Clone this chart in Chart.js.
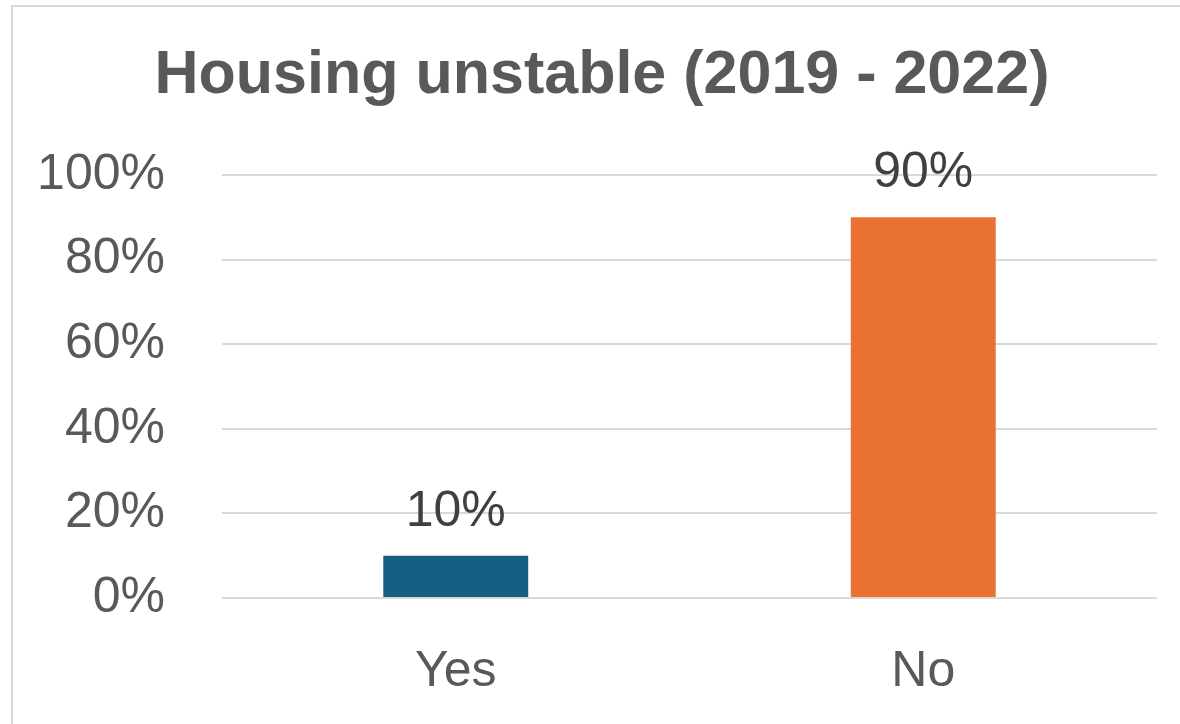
<!DOCTYPE html>
<html>
<head>
<meta charset="utf-8">
<script src="https://cdn.jsdelivr.net/npm/chart.js@4"></script>
<style>
  html, body { margin: 0; padding: 0; background: #fff; overflow: hidden; }
  #wrap { position: relative; width: 1180px; height: 724px; overflow: hidden; }
  #frame {
    position: absolute; left: 11px; top: 5px; width: 1300px; height: 800px;
    border: 2px solid #d9d9d9; box-sizing: border-box;
  }
  canvas { position: absolute; left: 0; top: 0; }
</style>
</head>
<body>
<div id="wrap">
  <div id="frame"></div>
  <canvas id="housingChart" width="1180" height="724"></canvas>
</div>
<script>
const categories = ['Yes', 'No'];
const shares = [10, 90];
const barColors = ['#156082', '#E97132'];
const yTicks = [0, 20, 40, 60, 80, 100];
const chartTitle = 'Housing unstable (2019 - 2022)';

const FONT = "'Liberation Sans', Arial, sans-serif";
const TEXT = '#595959';

// title is drawn by hand so it can sit a little right of the canvas centre
const titleText = {
  id: 'titleText',
  afterDraw(chart) {
    const { ctx } = chart;
    ctx.save();
    ctx.font = `bold 61px ${FONT}`;
    ctx.fillStyle = TEXT;
    ctx.textAlign = 'center';
    ctx.textBaseline = 'middle';
    ctx.fillText(chartTitle, 602, 76);
    ctx.restore();
  }
};

// value labels above each bar
const barValueLabels = {
  id: 'barValueLabels',
  afterDatasetsDraw(chart) {
    const { ctx } = chart;
    const meta = chart.getDatasetMeta(0);
    ctx.save();
    ctx.font = `50px ${FONT}`;
    ctx.fillStyle = '#404040';
    ctx.textAlign = 'center';
    ctx.textBaseline = 'alphabetic';
    meta.data.forEach((bar, i) => {
      ctx.fillText(shares[i] + '%', bar.x, bar.y - 30);
    });
    ctx.restore();
  }
};

new Chart(document.getElementById('housingChart'), {
  type: 'bar',
  data: {
    labels: categories,
    datasets: [{
      data: shares,
      backgroundColor: barColors,
      borderWidth: 0,
      barPercentage: 0.31,
      categoryPercentage: 1
    }]
  },
  options: {
    responsive: false,
    animation: false,
    layout: { padding: { left: 0, right: 23, top: 175, bottom: 0 }, autoPadding: false },
    plugins: {
      legend: { display: false },
      tooltip: { enabled: false },
      title: { display: false }
    },
    scales: {
      y: {
        min: 0,
        max: 100,
        afterFit(scale) { scale.width = 222; },
        afterBuildTicks(scale) { scale.ticks = yTicks.map(v => ({ value: v })); },
        border: { display: false },
        grid: { color: '#d9d9d9', lineWidth: 2, drawTicks: false },
        ticks: {
          color: TEXT,
          padding: 57,
          font: { family: FONT, size: 50 },
          callback: v => v + '%'
        }
      },
      x: {
        afterFit(scale) { scale.height = 724 - 598; },
        border: { display: false },
        grid: { display: false, drawTicks: false },
        ticks: {
          color: TEXT,
          padding: 44,
          font: { family: FONT, size: 50 }
        }
      }
    }
  },
  plugins: [barValueLabels, titleText]
});
</script>
</body>
</html>
